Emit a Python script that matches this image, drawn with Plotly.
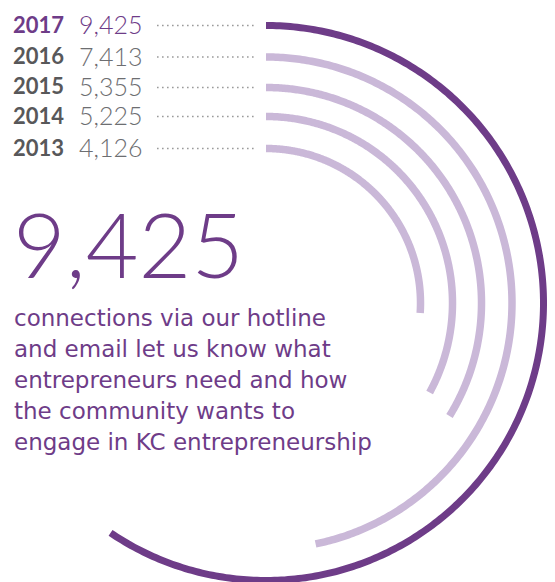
import numpy as np
import plotly.graph_objects as go

# data
years = ["2013", "2014", "2015", "2016", "2017"]
connections = [4126, 5225, 5355, 7413, 9425]
value_labels = ["4,126", "5,225", "5,355", "7,413", "9,425"]

headline = "9,425"
caption = ["connections via our hotline",
           "and email let us know what",
           "entrepreneurs need and how",
           "the community wants to",
           "engage in KC entrepreneurship"]

W, H = 555, 582
OFF = 8                    # page body margin, positions below are in window px
FULL_TURN = 15850          # connections that would close a full circle
ring_r = [154.5, 186.5, 215.5, 246, 277.5]   # ring radius in px
CX, CY = 266 - OFF, 303 - OFF
R_PX = 285

DARK = "#6E3C88"
LIGHT = "#CAB8D8"
GREY = "#58585A"
GREY_LIGHT = "#6D6E71"
FONT = "Lato"
BODY_FONT = "DejaVu Sans"


def px(x):
    return (x - OFF) / W


def py(y):
    return 1 - (y - OFF) / H


fig = go.Figure()

for yr, val, r in zip(years, connections, ring_r):
    ang = val * 360.0 / FULL_TURN
    theta = np.linspace(0, ang, 300)
    hi = yr == "2017"
    fig.add_trace(go.Scatterpolar(
        r=[r] * len(theta), theta=theta, mode="lines",
        line=dict(color=DARK if hi else LIGHT, width=7 if hi else 7.5),
        hoverinfo="skip", showlegend=False))

# polar domain: centre at (CX, CY), 1 radial unit = 1 px
left = CX - 0.6428 * R_PX
right = CX + R_PX
mid = (left + right) / 2 / W
half = 0.432
fig.update_layout(
    polar=dict(
        domain=dict(x=[mid - half, mid + half],
                    y=[1 - (CY + R_PX) / H, 1 - (CY - R_PX) / H]),
        sector=[-130, 90],
        bgcolor="white",
        radialaxis=dict(range=[0, R_PX], visible=False, showgrid=False),
        angularaxis=dict(direction="clockwise", rotation=90, visible=False,
                         showgrid=False),
    ),
)

anns = []
shapes = []
for yr, lab, r in zip(years, value_labels, ring_r):
    row_y = 303 - r
    hi = yr == "2017"
    anns.append(dict(x=px(11), y=py(row_y - 1.5), xref="paper", yref="paper",
                     xanchor="left", yanchor="middle", showarrow=False,
                     text="<b>%s</b>" % yr,
                     font=dict(family=FONT, size=22, color=DARK if hi else GREY)))
    anns.append(dict(x=px(77), y=py(row_y - 1.5), xref="paper", yref="paper",
                     xanchor="left", yanchor="middle", showarrow=False, text=lab,
                     font=dict(family=FONT, size=25, weight=300,
                               color=DARK if hi else GREY_LIGHT)))
    shapes.append(dict(type="line", xref="paper", yref="paper",
                       x0=px(157), x1=px(254), y0=py(row_y), y1=py(row_y),
                       line=dict(color="#9A9A9A", width=1.6, dash="1.6px,3.4px")))

anns.append(dict(x=px(11), y=py(242), xref="paper", yref="paper",
                 xanchor="left", yanchor="middle", showarrow=False, text=headline,
                 font=dict(family=FONT, size=91, weight=300, color=DARK)))

for i, line in enumerate(caption):
    anns.append(dict(x=px(12), y=py(318 + 31 * i), xref="paper", yref="paper",
                     xanchor="left", yanchor="middle", showarrow=False, text=line,
                     font=dict(family=BODY_FONT, size=23, color=DARK)))

fig.update_layout(
    width=W, height=H,
    margin=dict(l=0, r=0, t=0, b=0),
    paper_bgcolor="white",
    annotations=anns, shapes=shapes,
    showlegend=False,
)

fig.write_html("out.html")
